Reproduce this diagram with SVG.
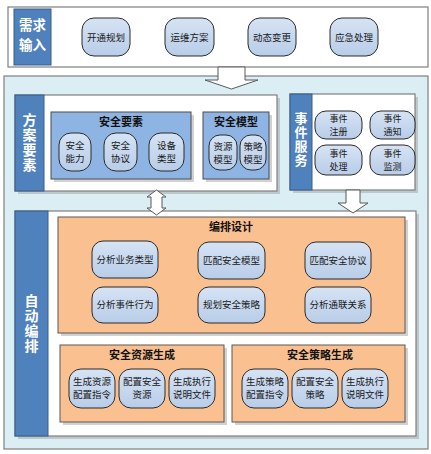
<svg xmlns="http://www.w3.org/2000/svg" width="431" height="454" viewBox="0 0 431 454">
<defs>
<linearGradient id="pg" x1="0" y1="0" x2="0" y2="1">
<stop offset="0" stop-color="#D6E3F4"/>
<stop offset="1" stop-color="#B8CDE8"/>
</linearGradient>
</defs>
<style>
text{font-family:"Noto Sans CJK SC","Liberation Sans",sans-serif;text-anchor:middle;fill:#1a1a1a}
.pill{fill:url(#pg);stroke:#2b2b2b;stroke-width:1}
.pt{font-size:9.5px}
.ps{font-size:9px}
.lbl{fill:#4F81BD;stroke:#385D8A;stroke-width:1}
.lt{font-size:13.5px;font-weight:bold;fill:#ffffff}
.vt{font-size:14px;font-weight:bold;fill:#ffffff;writing-mode:vertical-rl;letter-spacing:1px}
.wbox{fill:#ffffff;stroke:#7F7F7F;stroke-width:1.2}
.bbox{fill:#8EB4E3;stroke:#4D4D4D;stroke-width:1}
.obox{fill:#FAC090;stroke:#595959;stroke-width:1}
.sh{fill:#9a9a9a;opacity:0.45}
.tt{font-size:11px;font-weight:bold;fill:#111}
.arr{fill:#ffffff;stroke:#595959;stroke-width:1}
</style>

<g id="demand-input">
<rect class="wbox" x="8" y="7" width="420" height="60"/>
<rect class="lbl" x="14" y="9" width="37" height="56"/>
<text class="lt" x="32.5" y="30"><tspan x="32.5">需求</tspan><tspan x="32.5" dy="19.5">输入</tspan></text>
</g>
<g id="n-kaitong"><rect class="pill" x="82" y="18" width="48" height="38" rx="12"/><text class="pt" x="106" y="40.5">开通规划</text></g>
<g id="n-yunwei"><rect class="pill" x="165" y="18" width="49" height="38" rx="12"/><text class="pt" x="189.5" y="40.5">运维方案</text></g>
<g id="n-dongtai"><rect class="pill" x="248" y="18" width="48" height="38" rx="12"/><text class="pt" x="272" y="40.5">动态变更</text></g>
<g id="n-yingji"><rect class="pill" x="330" y="18" width="48" height="38" rx="12"/><text class="pt" x="354" y="40.5">应急处理</text></g>

<g id="container">
<rect x="4" y="76" width="424" height="373" fill="#DBEEF4" stroke="#7F7F7F" stroke-width="1.2"/>
</g>

<g id="scheme-elements">
<rect class="sh" x="18" y="98" width="262" height="96"/>
<rect class="wbox" x="15" y="95" width="262" height="96"/>
<rect class="lbl" x="15" y="95" width="29" height="96"/>
<text class="vt" x="29.5" y="143">方案要素</text>
</g>
<g id="security-elements">
<rect class="sh" x="54" y="115" width="140" height="67"/>
<rect class="bbox" x="51" y="112" width="140" height="67"/>
<text class="tt" x="121" y="126">安全要素</text>
</g>
<g id="n-nengli"><rect class="pill" x="59" y="133" width="32" height="38" rx="12"/><text class="pt" x="75" y="149"><tspan x="75">安全</tspan><tspan x="75" dy="13">能力</tspan></text></g>
<g id="n-xieyi"><rect class="pill" x="104" y="133" width="33" height="38" rx="12"/><text class="pt" x="120.5" y="149"><tspan x="120.5">安全</tspan><tspan x="120.5" dy="13">协议</tspan></text></g>
<g id="n-shebei"><rect class="pill" x="149" y="133" width="35" height="38" rx="12"/><text class="pt" x="166.5" y="149"><tspan x="166.5">设备</tspan><tspan x="166.5" dy="13">类型</tspan></text></g>
<g id="security-model">
<rect class="sh" x="206" y="115" width="66" height="67"/>
<rect class="bbox" x="203" y="112" width="66" height="67"/>
<text class="tt" x="236" y="126">安全模型</text>
</g>
<g id="n-ziyuanmx"><rect class="pill" x="209" y="135" width="28" height="35" rx="11"/><text class="pt" x="223" y="150"><tspan x="223">资源</tspan><tspan x="223" dy="13">模型</tspan></text></g>
<g id="n-celuemx"><rect class="pill" x="240" y="135" width="26" height="35" rx="11"/><text class="pt" x="253" y="150"><tspan x="253">策略</tspan><tspan x="253" dy="13">模型</tspan></text></g>

<g id="event-service">
<rect class="sh" x="293" y="97" width="125" height="96"/>
<rect class="wbox" x="290" y="94" width="125" height="96"/>
<rect class="lbl" x="290" y="94" width="22" height="96"/>
<text class="vt" x="301" y="140" style="font-size:13px">事件服务</text>
</g>
<g id="n-zhuce"><rect class="pill" x="315" y="111" width="47" height="28" rx="11"/><text class="ps" x="338.5" y="121.5"><tspan x="338.5">事件</tspan><tspan x="338.5" dy="13.2">注册</tspan></text></g>
<g id="n-tongzhi"><rect class="pill" x="370" y="111" width="45" height="28" rx="11"/><text class="ps" x="392.5" y="121.5"><tspan x="392.5">事件</tspan><tspan x="392.5" dy="13.2">通知</tspan></text></g>
<g id="n-chuli"><rect class="pill" x="315" y="145" width="47" height="30" rx="11"/><text class="ps" x="338.5" y="156.5"><tspan x="338.5">事件</tspan><tspan x="338.5" dy="13.2">处理</tspan></text></g>
<g id="n-jiance"><rect class="pill" x="370" y="145" width="45" height="30" rx="11"/><text class="ps" x="392.5" y="156.5"><tspan x="392.5">事件</tspan><tspan x="392.5" dy="13.2">监测</tspan></text></g>

<g id="auto-orchestration">
<rect class="sh" x="18" y="214" width="401" height="225"/>
<rect class="wbox" x="15" y="211" width="401" height="225"/>
<rect class="lbl" x="15" y="211" width="33" height="225"/>
<text class="vt" x="31.5" y="323.5">自动编排</text>
</g>
<g id="orch-design">
<rect class="sh" x="61" y="220" width="347" height="116"/>
<rect class="obox" x="58" y="217" width="347" height="116"/>
<text class="tt" x="231" y="231">编排设计</text>
</g>
<g id="n-fxywlx"><rect class="pill" x="92" y="241" width="66" height="37" rx="11"/><text class="pt" x="125" y="262.5">分析业务类型</text></g>
<g id="n-ppaqmx"><rect class="pill" x="198" y="242" width="67" height="37" rx="11"/><text class="pt" x="231.5" y="263.5">匹配安全模型</text></g>
<g id="n-ppaqxy"><rect class="pill" x="305" y="242" width="66" height="37" rx="11"/><text class="pt" x="338" y="263.5">匹配安全协议</text></g>
<g id="n-fxsjxw"><rect class="pill" x="92" y="287" width="66" height="36" rx="11"/><text class="pt" x="125" y="308">分析事件行为</text></g>
<g id="n-ghaqcl"><rect class="pill" x="198" y="287" width="67" height="36" rx="11"/><text class="pt" x="231.5" y="308">规划安全策略</text></g>
<g id="n-fxglgx"><rect class="pill" x="305" y="287" width="66" height="36" rx="11"/><text class="pt" x="338" y="308">分析通联关系</text></g>

<g id="res-gen">
<rect class="sh" x="63" y="348" width="164" height="77"/>
<rect class="obox" x="60" y="345" width="164" height="77"/>
<text class="tt" x="142" y="359">安全资源生成</text>
</g>
<g id="n-r1"><rect class="pill" x="69" y="369" width="46" height="39" rx="12"/><text class="pt" x="92" y="385"><tspan x="92">生成资源</tspan><tspan x="92" dy="13">配置指令</tspan></text></g>
<g id="n-r2"><rect class="pill" x="119" y="369" width="46" height="39" rx="12"/><text class="pt" x="142" y="385"><tspan x="142">配置安全</tspan><tspan x="142" dy="13">资源</tspan></text></g>
<g id="n-r3"><rect class="pill" x="169" y="369" width="46" height="39" rx="12"/><text class="pt" x="192" y="385"><tspan x="192">生成执行</tspan><tspan x="192" dy="13">说明文件</tspan></text></g>

<g id="pol-gen">
<rect class="sh" x="235" y="348" width="173" height="77"/>
<rect class="obox" x="232" y="345" width="173" height="77"/>
<text class="tt" x="320" y="359">安全策略生成</text>
</g>
<g id="n-p1"><rect class="pill" x="242" y="369" width="46" height="39" rx="12"/><text class="pt" x="265" y="385"><tspan x="265">生成策略</tspan><tspan x="265" dy="13">配置指令</tspan></text></g>
<g id="n-p2"><rect class="pill" x="292" y="369" width="46" height="39" rx="12"/><text class="pt" x="315" y="385"><tspan x="315">配置安全</tspan><tspan x="315" dy="13">策略</tspan></text></g>
<g id="n-p3"><rect class="pill" x="342" y="369" width="46" height="39" rx="12"/><text class="pt" x="365" y="385"><tspan x="365">生成执行</tspan><tspan x="365" dy="13">说明文件</tspan></text></g>

<g id="connectors">
<polygon class="arr" points="218,67 245,67 245,80 258,80 231.5,89 205,80 218,80"/>
<polygon class="arr" points="156.5,190 166,197 162,197 162,208 166,208 156.5,215 147,208 151,208 151,197 147,197"/>
<polygon class="arr" points="346,190 360,190 360,203 368,203 353,213 338,203 346,203"/>
</g>
</svg>
